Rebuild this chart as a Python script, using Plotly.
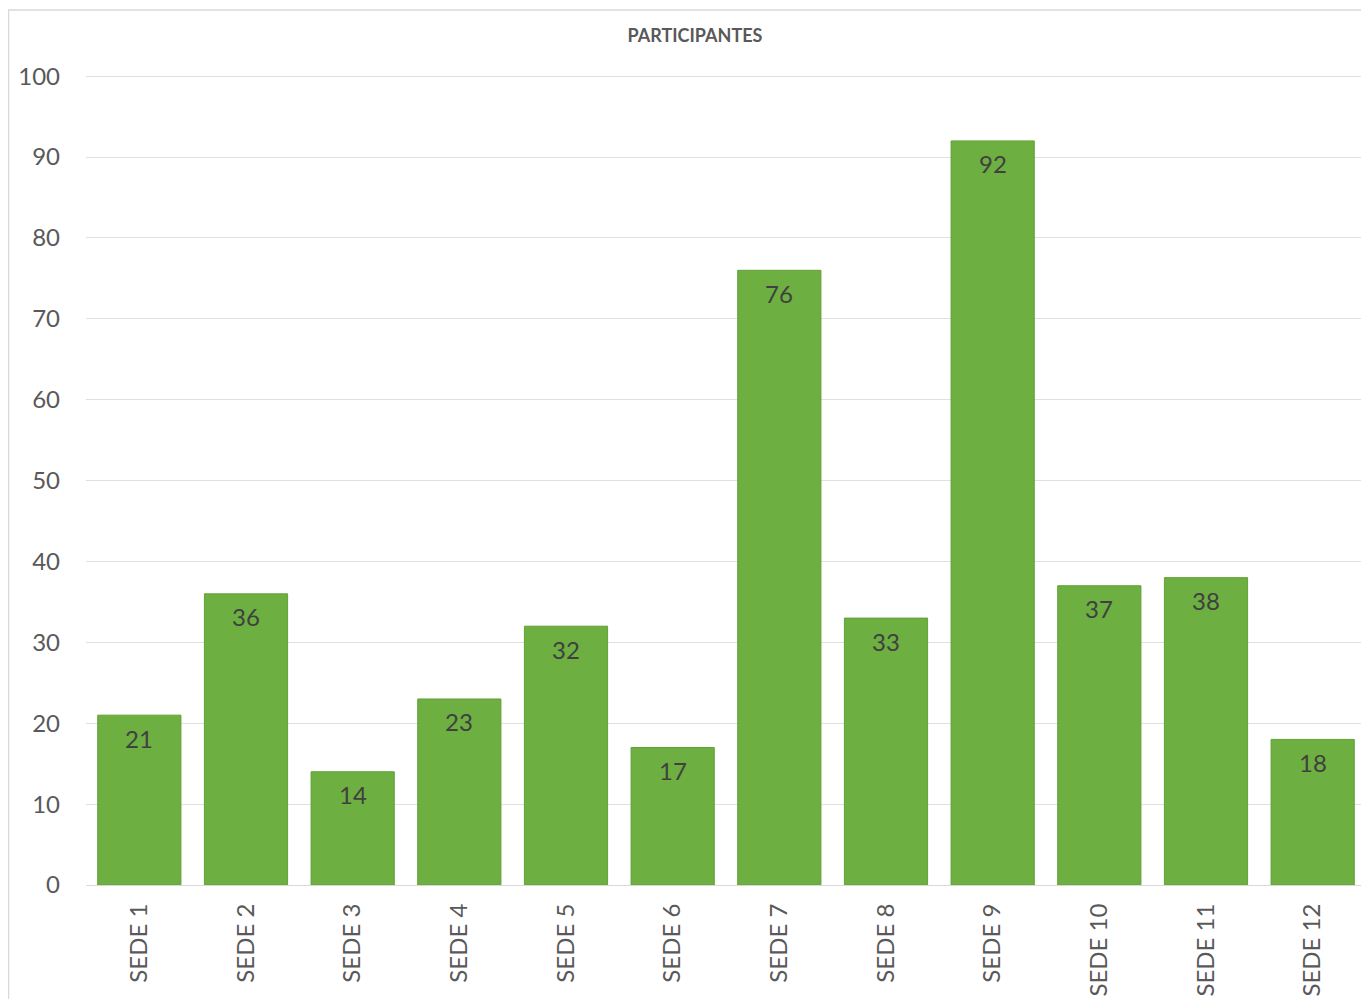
import plotly.graph_objects as go

categories = ["SEDE 1", "SEDE 2", "SEDE 3", "SEDE 4", "SEDE 5", "SEDE 6",
              "SEDE 7", "SEDE 8", "SEDE 9", "SEDE 10", "SEDE 11", "SEDE 12"]
values = [21, 36, 14, 23, 32, 17, 76, 33, 92, 37, 38, 18]
y_ticks = [0, 10, 20, 30, 40, 50, 60, 70, 80, 90, 100]
title_text = "PARTICIPANTES"

FONT = "Lato, 'Open Sans', sans-serif"

W, H = 1361, 991
L, R, T, B = 78, 3, 67, 114
PW, PH = W - L - R, H - T - B

fig = go.Figure()
fig.add_trace(go.Bar(
    x=categories, y=values,
    marker=dict(color="#6daf40", line=dict(color="#61a135", width=1)),
    width=0.78,
))

annotations = [
    dict(x=c, y=v, xref="x", yref="y", text=str(v), showarrow=False,
         yanchor="middle", xanchor="center", yshift=-23,
         font=dict(family=FONT, size=24, color="#404040"))
    for c, v in zip(categories, values)
]

fig.update_layout(
    width=W, height=H,
    margin=dict(l=L, r=R, t=T, b=B),
    paper_bgcolor="white", plot_bgcolor="white",
    showlegend=False,
    annotations=annotations,
    title=dict(text="<b>" + title_text + "</b>", x=687 / W, xanchor="center",
               y=1 - 28 / H, yanchor="middle",
               font=dict(family=FONT, size=18, color="#595959")),
    xaxis=dict(showgrid=False, showline=True, linecolor="#d9d9d9", linewidth=1,
               ticks="", tickangle=-90, ticklabelstandoff=8,
               tickfont=dict(family=FONT, size=24, color="#595959")),
    yaxis=dict(range=[0, 100.15], tickvals=y_ticks, showgrid=True, gridcolor="#e0e0e0",
               gridwidth=1, zeroline=False, showline=False, ticks="",
               ticklabelstandoff=25,
               tickfont=dict(family=FONT, size=24, color="#595959")),
    shapes=[dict(type="rect", xref="paper", yref="paper",
                 x0=(0.5 - L) / PW, x1=1.05, y0=-0.3, y1=(PH + T - 2) / PH,
                 line=dict(color="#d9d9d9", width=1.5), fillcolor="rgba(0,0,0,0)",
                 layer="below")],
)

fig.write_html("out.html")
